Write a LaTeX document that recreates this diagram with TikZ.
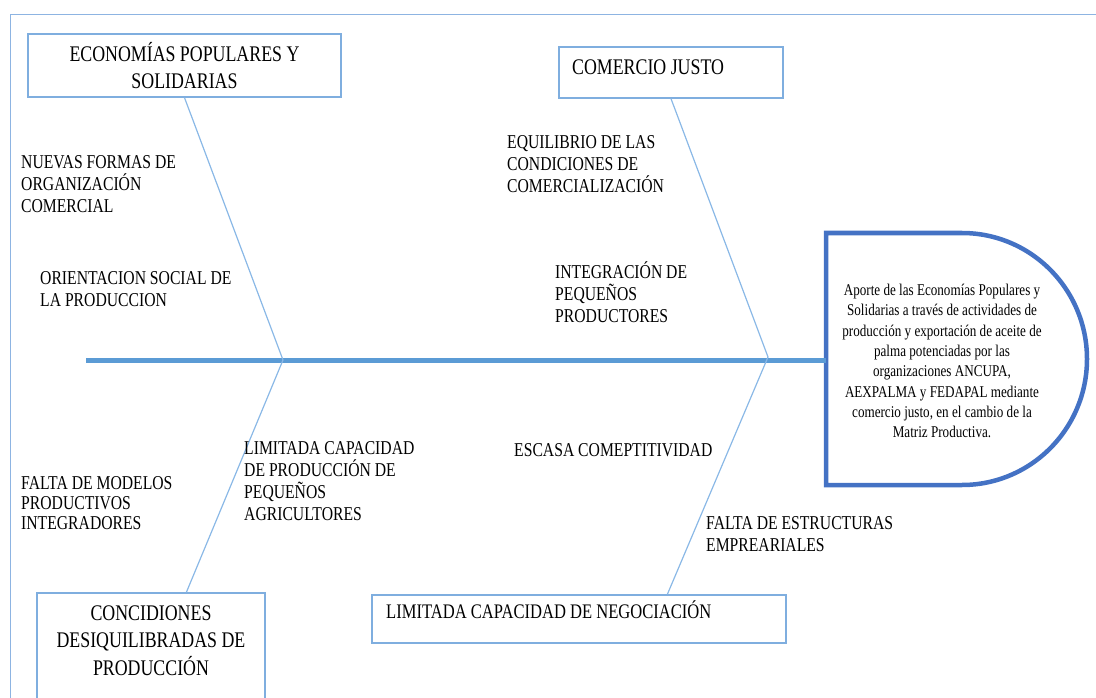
\documentclass[tikz,border=0pt]{standalone}
\usepackage{fontspec}
\setmainfont[FakeStretch=0.8]{Liberation Serif}
\usetikzlibrary{calc}
\definecolor{framec}{HTML}{8DB4E2}
\definecolor{boxc}{HTML}{7FAEDF}
\definecolor{bonec}{HTML}{8AB8E6}
\definecolor{spinec}{HTML}{5B9BD5}
\definecolor{goalc}{HTML}{4472C4}
\begin{document}
\begin{tikzpicture}[x=1pt,y=-1pt,
  boxst/.style={draw=boxc, line width=1.3pt, inner sep=0pt, rectangle},
  bone/.style={draw=bonec, line width=1.2pt},
  spine/.style={draw=spinec, line width=5pt},
  goalst/.style={draw=goalc, line width=4.5pt, line join=miter},
  txt/.style={anchor=north west, inner sep=0pt, align=left, execute at begin node={\rule{0pt}{0.9em}}},
  lab/.style={txt, font=\fontsize{19.6}{22}\selectfont},
]
\useasboundingbox (0,0) rectangle (1096,698);
\clip (0,0) rectangle (1096,698);
\draw[draw=framec, line width=1pt] (10,15) rectangle (1120,720);

% cause boxes
\node[boxst, minimum width=313pt, minimum height=63pt, align=center, font=\fontsize{22.3}{27}\selectfont] (b1) at (184.5,65.5) {ECONOMÍAS POPULARES Y\\SOLIDARIAS};
\node[boxst, minimum width=224pt, minimum height=51pt] (b2) at (671,72.5) {};
\node[txt, font=\fontsize{22.3}{27}\selectfont] (t2) at (572,54.2) {COMERCIO JUSTO};
\node[boxst, minimum width=228pt, minimum height=130pt] (b3) at (151,658) {};
\node[align=center, font=\fontsize{22.3}{27.5}\selectfont, inner sep=0pt] (t3) at (151,640.5) {CONCIDIONES\\DESIQUILIBRADAS DE\\PRODUCCIÓN};
\node[boxst, minimum width=414pt, minimum height=48pt] (b4) at (579,619) {};
\node[txt, font=\fontsize{20.7}{22}\selectfont] (t4) at (386,600.1) {LIMITADA CAPACIDAD DE NEGOCIACIÓN};

% goal
\draw[goalst] (826,233) -- (962,233) arc[start angle=-90, end angle=90, x radius=125, y radius=126] -- (826,485) -- cycle;
\node[font=\fontsize{16.4}{20.3}\selectfont, align=center, inner sep=0pt] (goal) at (942,361) {Aporte de las Economías Populares y\\Solidarias a través de actividades de\\producción y exportación de aceite de\\palma potenciadas por las\\organizaciones ANCUPA,\\AEXPALMA y FEDAPAL mediante\\comercio justo, en el cambio de la\\Matriz Productiva.};

% spine and bones
\coordinate (tail) at (86,360);
\coordinate (head) at (826,360);
\coordinate (v1) at (283,360);
\coordinate (v2) at (768,357);
\draw[spine] (tail) -- (head);
\draw[bone] (b1.south) -- (v1);
\draw[bone] (b2.south) -- (v2);
\draw[bone] (v1) -- ($(b3.north west)+(150,0)$);
\draw[bone] (v2) -- ($(b4.north west)+(296,0)$);

% labels
\node[lab] (l1) at (21,155.8) {NUEVAS FORMAS DE\\ORGANIZACIÓN\\COMERCIAL};
\node[lab] (l2) at (40,271.8) {ORIENTACION SOCIAL DE\\LA PRODUCCION};
\node[lab] (l3) at (507,135.8) {EQUILIBRIO DE LAS\\CONDICIONES DE\\COMERCIALIZACIÓN};
\node[lab] (l4) at (555,261.8) {INTEGRACIÓN DE\\PEQUEÑOS\\PRODUCTORES};
\node[lab, font=\fontsize{19.6}{20}\selectfont] (l5) at (21,476.8) {FALTA DE MODELOS\\PRODUCTIVOS\\INTEGRADORES};
\node[lab] (l6) at (244,441.8) {LIMITADA CAPACIDAD\\DE PRODUCCIÓN DE\\PEQUEÑOS\\AGRICULTORES};
\node[lab] (l7) at (514,438.8) {ESCASA COMEPTITIVIDAD};
\node[lab] (l8) at (706,516.8) {FALTA DE ESTRUCTURAS\\EMPREARIALES};
\end{tikzpicture}
\end{document}
